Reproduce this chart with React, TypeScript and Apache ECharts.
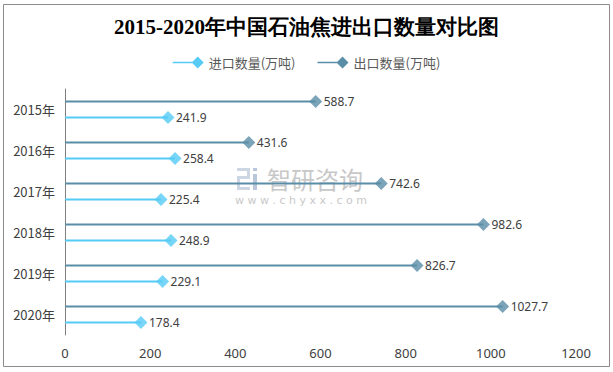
import React, { useEffect, useRef } from "react";
import * as echarts from "echarts";

const years = ["2015年", "2016年", "2017年", "2018年", "2019年", "2020年"];
const importValues = [241.9, 258.4, 225.4, 248.9, 229.1, 178.4];
const exportValues = [588.7, 431.6, 742.6, 982.6, 826.7, 1027.7];
const xTicks = { min: 0, max: 1200, interval: 200 };
const titleText = "2015-2020年中国石油焦进出口数量对比图";
const importName = "进口数量(万吨)";
const exportName = "出口数量(万吨)";

const IMPORT_COLOR = "#55CBF5";
const EXPORT_COLOR = "#5A8DA8";
const legendIcon = "path://M0,5.2L22,5.2L22,6.8L0,6.8Z M19,6L25,0L31,6L25,12Z";

export default function App() {
  const ref = useRef<HTMLDivElement>(null);
  useEffect(() => {
    if (!ref.current) return;
    const chart = echarts.init(ref.current, null, { renderer: "svg" });
    const labelStyle = {
      show: true,
      position: "right" as const,
      distance: 8,
      color: "#404040",
      fontSize: 12,
      fontFamily: "Noto Sans, sans-serif",
    };
    chart.setOption({
      animation: false,
      backgroundColor: "#ffffff",
      title: {
        text: titleText,
        left: "center",
        top: 11,
        textStyle: {
          fontFamily: "Liberation Serif, DejaVu Serif, serif",
          fontWeight: "bold",
          fontSize: 21,
          color: "#000000",
        },
      },
      legend: {
        top: 51,
        left: "center",
        itemWidth: 31,
        itemHeight: 12,
        itemGap: 22,
        textStyle: { color: "#595959", fontSize: 13, fontFamily: "Noto Sans CJK SC, sans-serif" },
        data: [
          { name: importName, icon: legendIcon, itemStyle: { color: IMPORT_COLOR } },
          { name: exportName, icon: legendIcon, itemStyle: { color: EXPORT_COLOR } },
        ],
      },
      grid: { left: 65, right: 37, top: 89, bottom: 37, containLabel: false },
      xAxis: {
        type: "value",
        min: xTicks.min,
        max: xTicks.max,
        interval: xTicks.interval,
        axisLine: { show: false },
        axisTick: { show: false },
        splitLine: { show: false },
        axisLabel: {
          color: "#404040",
          fontSize: 13,
          margin: 11,
          fontFamily: "Noto Sans, sans-serif",
          formatter: (v: number) => String(v),
        },
      },
      yAxis: {
        type: "category",
        data: years,
        inverse: true,
        axisLine: { show: true, lineStyle: { color: "#808080", width: 1 } },
        axisTick: { show: false },
        axisLabel: { color: "#404040", fontSize: 13, margin: 10, fontFamily: "Noto Sans CJK SC, sans-serif" },
      },
      graphic: [
        {
          type: "rect",
          shape: { x: 3.5, y: 4.5, width: 606, height: 362 },
          style: { fill: "none", stroke: "#8c8c8c", lineWidth: 1 },
          silent: true,
          z: 0,
        },
        {
          type: "group",
          silent: true,
          z: 0,
          children: [
            { type: "rect", shape: { x: 237, y: 168, width: 13, height: 3 }, style: { fill: "#cdd6e3" } },
            { type: "rect", shape: { x: 247, y: 168, width: 3, height: 11 }, style: { fill: "#cdd6e3" } },
            { type: "rect", shape: { x: 237, y: 176, width: 13, height: 3 }, style: { fill: "#cdd6e3" } },
            { type: "rect", shape: { x: 237, y: 176, width: 3, height: 14 }, style: { fill: "#cdd6e3" } },
            { type: "rect", shape: { x: 237, y: 187, width: 13, height: 3 }, style: { fill: "#cdd6e3" } },
            { type: "rect", shape: { x: 253, y: 168, width: 4, height: 3 }, style: { fill: "#b9c7da" } },
            { type: "rect", shape: { x: 253, y: 174, width: 4, height: 16 }, style: { fill: "#b9c7da" } },
            {
              type: "text",
              x: 267,
              y: 166,
              style: {
                text: "智研咨询",
                fontSize: 24,
                lineHeight: 24,
                fill: "#c8c8c8",
                fontFamily: "Noto Sans CJK SC, sans-serif",
              },
            },
            {
              type: "text",
              x: 235,
              y: 195,
              style: {
                text: "w w w . c h y x x . c o m",
                fontSize: 11,
                lineHeight: 11,
                fill: "#c8c8c8",
                fontFamily: "DejaVu Sans, sans-serif",
              },
            },
          ],
        },
      ],
      series: [
        {
          name: exportName,
          type: "bar",
          data: exportValues,
          barWidth: 2,
          barGap: "700%",
          itemStyle: { color: EXPORT_COLOR },
          label: labelStyle,
          z: 3,
        },
        {
          name: importName,
          type: "bar",
          data: importValues,
          barWidth: 2,
          barGap: "700%",
          itemStyle: { color: IMPORT_COLOR },
          label: labelStyle,
          z: 3,
        },
        {
          name: exportName,
          type: "scatter",
          data: exportValues,
          symbol: "diamond",
          symbolSize: [13, 13],
          symbolOffset: [0, -8],
          itemStyle: { color: EXPORT_COLOR },
          z: 4,
        },
        {
          name: importName,
          type: "scatter",
          data: importValues,
          symbol: "diamond",
          symbolSize: [13, 13],
          symbolOffset: [0, 8],
          itemStyle: { color: IMPORT_COLOR },
          z: 4,
        },
      ],
    });
    return () => chart.dispose();
  }, []);
  return (
    <div
      ref={ref}
      style={{ position: "fixed", left: 0, top: 0, width: 613, height: 372 }}
    />
  );
}
